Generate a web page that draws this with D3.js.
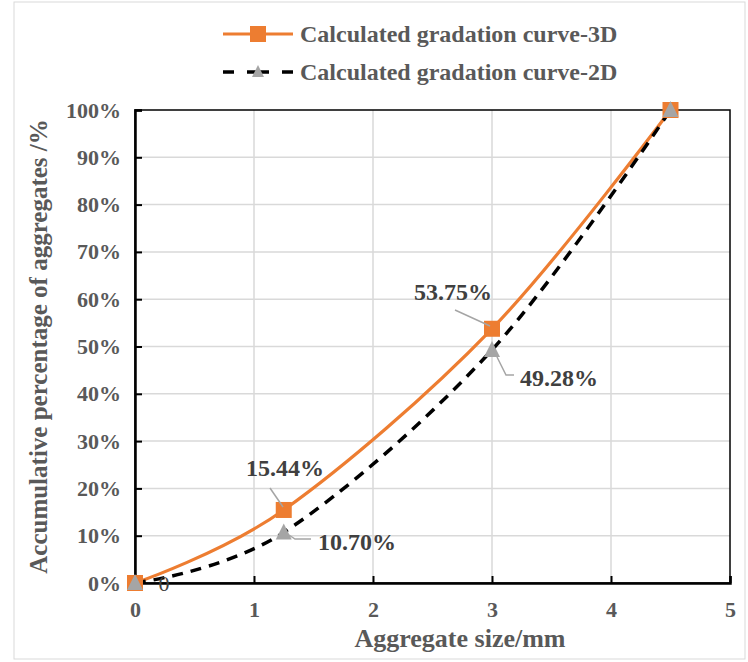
<!DOCTYPE html>
<html>
<head>
<meta charset="utf-8">
<script src="https://cdn.jsdelivr.net/npm/d3@7"></script>
<style>
  body { margin: 0; background: #fff; }
</style>
</head>
<body>
<svg width="748" height="662"></svg>
<script>
// gradation data
const sizes = [0, 1.25, 3, 4.5]
const curve3D = [0, 15.44, 53.75, 100]
const curve2D = [0, 10.70, 49.28, 100]
const xTicks = [0, 1, 2, 3, 4, 5]
const yTicks = [0, 10, 20, 30, 40, 50, 60, 70, 80, 90, 100]
const seriesNames = ['Calculated gradation curve-3D', 'Calculated gradation curve-2D']

const FONT = '"Liberation Serif", "Times New Roman", Times, "DejaVu Serif", serif'
const svg = d3.select('svg').attr('font-family', FONT)
const margin = { left: 135, right: 18, top: 110, bottom: 79 }
const W = 748, H = 662
const x = d3.scaleLinear().domain([0, 5]).range([margin.left, W - margin.right])
const y = d3.scaleLinear().domain([0, 100]).range([H - margin.bottom, margin.top])

const orange = '#ed7d31', grey = '#a5a5a5', textCol = '#595959'

// outer frame
svg.append('rect').attr('x', 14).attr('y', 2).attr('width', 731).attr('height', 657)
  .attr('fill', 'none').attr('stroke', '#d9d9d9').attr('stroke-width', 1)

// gridlines
svg.append('g').selectAll('line').data(xTicks.slice(1, -1)).join('line')
  .attr('x1', d => x(d)).attr('x2', d => x(d)).attr('y1', y(0)).attr('y2', y(100))
  .attr('stroke', '#d9d9d9').attr('stroke-width', 1.5)
svg.append('g').selectAll('line').data(yTicks.slice(1, -1)).join('line')
  .attr('y1', d => y(d)).attr('y2', d => y(d)).attr('x1', x(0)).attr('x2', x(5))
  .attr('stroke', '#d9d9d9').attr('stroke-width', 1.5)

// plot box
svg.append('rect').attr('x', x(0)).attr('y', y(100))
  .attr('width', x(5) - x(0)).attr('height', y(0) - y(100))
  .attr('fill', 'none').attr('stroke', '#000').attr('stroke-width', 1.5)

// axes (ticks inside)
const xAxis = svg.append('g').attr('transform', `translate(0,${y(0)})`)
  .call(d3.axisBottom(x).tickValues(xTicks).tickSize(-7).tickPadding(18).tickFormat(d3.format('d')))
const yAxis = svg.append('g').attr('transform', `translate(${x(0)},0)`)
  .call(d3.axisLeft(y).tickValues(yTicks).tickSize(-7).tickPadding(14).tickFormat(d => d + '%'))
;[xAxis, yAxis].forEach(a => {
  a.attr('font-family', FONT)
  a.select('.domain').attr('stroke', '#000').attr('stroke-width', 2.5)
  a.selectAll('.tick line').attr('stroke', '#000').attr('stroke-width', 2)
  a.selectAll('.tick text').attr('fill', textCol).attr('font-size', 22).attr('font-weight', 'bold')
})

// axis titles
svg.append('text').attr('x', 460).attr('y', 647).attr('text-anchor', 'middle')
  .attr('font-size', 26).attr('font-weight', 'bold').attr('fill', textCol).text('Aggregate size/mm')
svg.append('text').attr('transform', `translate(47,${(y(0) + y(100)) / 2}) rotate(-90)`)
  .attr('text-anchor', 'middle').attr('font-size', 25).attr('font-weight', 'bold')
  .attr('fill', textCol).text('Accumulative percentage of aggregates /%')

const line = d3.line().x(d => x(d[0])).y(d => y(d[1])).curve(d3.curveCardinal.tension(0))
const pts3 = sizes.map((s, i) => [s, curve3D[i]])
const pts2 = sizes.map((s, i) => [s, curve2D[i]])

svg.append('path').datum(pts3).attr('d', line).attr('fill', 'none')
  .attr('stroke', orange).attr('stroke-width', 3.2)
svg.append('path').datum(pts2).attr('d', line).attr('fill', 'none')
  .attr('stroke', '#000').attr('stroke-width', 3.5).attr('stroke-dasharray', '11,8')

const sq = 16
const triPath = (cx, cy) => `M${cx},${cy - 9}L${cx + 8},${cy + 7}L${cx - 8},${cy + 7}Z`

svg.append('g').selectAll('rect').data(pts3).join('rect')
  .attr('x', d => x(d[0]) - sq / 2).attr('y', d => y(d[1]) - sq / 2)
  .attr('width', sq).attr('height', sq).attr('fill', orange)
svg.append('g').selectAll('path').data(pts2).join('path')
  .attr('d', d => triPath(x(d[0]), y(d[1]))).attr('fill', grey)

// data labels with leader lines
const fmt = v => v.toFixed(2) + '%'
const labels = [
  { p: pts3[1], tx: 285, ty: 468, lead: [[270, 488], [283, 507]] },
  { p: pts3[2], tx: 453, ty: 292, lead: [[455, 310], [490, 326]] },
  { p: pts2[1], tx: 357, ty: 542, lead: [[289, 535], [295, 539], [311, 539]] },
  { p: pts2[2], tx: 559, ty: 378, lead: [[497, 357], [506, 375], [514, 375]] }
]
labels.forEach(l => {
  svg.append('path').attr('d', d3.line()(l.lead)).attr('fill', 'none')
    .attr('stroke', grey).attr('stroke-width', 1.5)
  svg.append('text').attr('x', l.tx).attr('y', l.ty).attr('dy', '0.35em')
    .attr('text-anchor', 'middle').attr('font-size', 24).attr('font-weight', 'bold')
    .attr('fill', '#404040').text(fmt(l.p[1]))
})
svg.append('text').attr('x', 164).attr('y', y(0)).attr('dy', '0.35em').attr('text-anchor', 'middle')
  .attr('font-size', 22).attr('fill', '#404040').text('0')

// legend
const legend = svg.append('g')
const leg = [{ y: 34, name: seriesNames[0] }, { y: 72, name: seriesNames[1] }]
legend.append('line').attr('x1', 223).attr('x2', 293).attr('y1', leg[0].y).attr('y2', leg[0].y)
  .attr('stroke', orange).attr('stroke-width', 3.2)
legend.append('rect').attr('x', 258 - sq / 2).attr('y', leg[0].y - sq / 2)
  .attr('width', sq).attr('height', sq).attr('fill', orange)
legend.append('line').attr('x1', 223).attr('x2', 293).attr('y1', leg[1].y).attr('y2', leg[1].y)
  .attr('stroke', '#000').attr('stroke-width', 3.5).attr('stroke-dasharray', '11,13,22,13,11')
legend.append('path').attr('d', `M258,${leg[1].y - 7}L264,${leg[1].y + 5}L252,${leg[1].y + 5}Z`)
  .attr('fill', grey)
leg.forEach(l => {
  legend.append('text').attr('x', 300).attr('y', l.y).attr('dy', '0.35em')
    .attr('font-size', 24).attr('font-weight', 'bold').attr('fill', textCol).text(l.name)
})
</script>
</body>
</html>
